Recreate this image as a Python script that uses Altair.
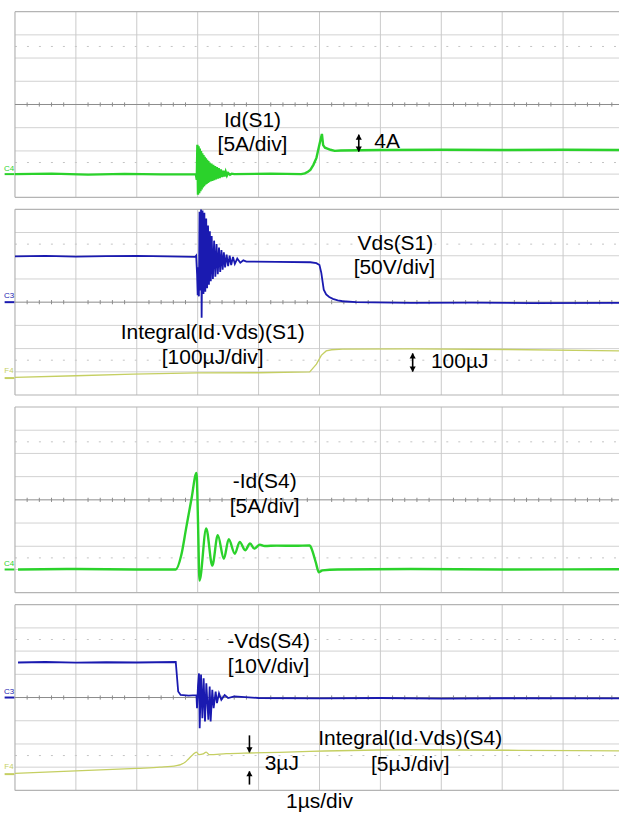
import altair as alt
import pandas as pd

# ---------------- data (time in µs = divisions, value in divisions) ----------------
# Panel 1: Id(S1), green
id1_t = [0.0, 0.6, 1.2, 1.8, 2.4, 2.97, 2.985, 2.995, 3.005, 3.015, 3.025, 3.035, 3.045, 3.055,
         3.065, 3.075, 3.085, 3.095, 3.105, 3.115, 3.125, 3.135, 3.145, 3.155, 3.165, 3.175,
         3.185, 3.195, 3.21, 3.225, 3.24, 3.255, 3.27, 3.285, 3.30, 3.315, 3.33, 3.345, 3.36,
         3.38, 3.40, 3.42, 3.44, 3.46, 3.48, 3.50, 3.53, 3.56, 3.6, 4.2, 4.70, 4.76, 4.81, 4.85,
         4.90, 4.95, 5.00, 5.04, 5.06, 5.09, 5.13, 5.18, 5.25, 5.35, 6.0, 7.0, 8.0, 9.0, 9.93]
id1_v = [-3.0, -2.98, -3.02, -2.99, -3.01, -3.0, -3.25, -1.74, -3.89, -1.80, -3.82, -1.90, -3.74,
         -2.00, -3.66, -2.10, -3.58, -2.18, -3.52, -2.25, -3.46, -2.32, -3.42, -2.38, -3.38,
         -2.44, -3.35, -2.50, -3.32, -2.55, -3.29, -2.60, -3.26, -2.65, -3.23, -2.70, -3.20,
         -2.74, -3.17, -2.80, -3.13, -2.85, -3.10, -2.90, -3.06, -2.95, -3.03, -2.98, -3.0,
         -2.98, -3.0, -2.97, -2.90, -2.82, -2.60, -2.30, -1.71, -1.27, -1.75, -1.86, -1.90,
         -1.95, -2.0, -1.98, -1.96, -1.95, -1.96, -1.95, -1.96]

# Panel 2: Vds(S1), blue
vd1_t = [0.0, 0.5, 1.0, 1.5, 2.0, 2.5, 2.96, 2.975, 2.99, 3.0, 3.01, 3.02, 3.03, 3.045, 3.055,
         3.065, 3.08, 3.095, 3.11, 3.125, 3.14, 3.155, 3.17, 3.185, 3.2, 3.215, 3.23, 3.25, 3.27,
         3.29, 3.31, 3.33, 3.35, 3.37, 3.39, 3.41, 3.43, 3.45, 3.475, 3.5, 3.525, 3.55, 3.58,
         3.61, 3.65, 3.7, 3.75, 3.8, 4.3, 4.85, 4.95, 5.0, 5.03, 5.07, 5.11, 5.16, 5.22, 5.3,
         5.38, 5.6, 6.5, 7.5, 8.5, 9.93]
vd1_v = [1.97, 1.99, 1.96, 1.98, 1.99, 1.97, 1.95, 2.0, 1.2, 0.3, 1.5, 0.25, 3.9, 0.5, 4.0,
         -0.67, 3.95, 0.35, 3.85, 0.45, 3.6, 0.6, 3.3, 0.75, 3.05, 0.9, 2.85, 1.0, 2.65, 1.1,
         2.5, 1.2, 2.35, 1.3, 2.25, 1.4, 2.15, 1.5, 2.05, 1.55, 2.0, 1.6, 1.95, 1.65, 1.88,
         1.7, 1.8, 1.75, 1.74, 1.72, 1.68, 1.6, 1.26, 0.54, 0.33, 0.22, 0.14, 0.08, 0.04, 0.0,
         -0.03, -0.02, -0.04, -0.03]

# Panel 2: Integral(Id·Vds)(S1), yellow
en1_t = [0.0, 1.0, 1.94, 3.0, 4.0, 4.84, 4.95, 5.03, 5.11, 5.2, 5.38, 6.5, 8.1, 9.93]
en1_v = [-3.24, -3.17, -3.1, -3.05, -3.04, -3.0, -2.67, -2.29, -2.1, -2.05, -2.02, -2.01, -2.04, -2.1]

# Panel 3: -Id(S4), green
id4_t = [0.05, 1.0, 2.0, 2.64, 2.73, 2.81, 2.90, 2.98, 2.995, 3.01, 3.03, 3.14,
         3.24, 3.33, 3.43, 3.51, 3.61, 3.69, 3.78, 3.86, 3.93, 4.02, 4.1, 4.3, 4.6, 4.84,
         4.87, 4.89, 4.94, 4.99, 5.05, 5.3, 6.5, 8.0, 9.93]
id4_v = [-3.0, -2.98, -3.0, -3.0, -2.39, -1.23, 0.07, 1.16, 0.22, -1.52, -3.48, -1.23,
         -2.83, -1.52, -2.54, -1.70, -2.32, -1.81, -2.17, -1.88, -2.1, -1.93, -1.99, -1.97,
         -1.98, -1.96, -2.1, -2.25, -2.7, -3.12, -3.04, -3.0, -2.98, -3.0, -2.99]

# Panel 4: -Vds(S4), blue
vd4_t = [0.05, 0.5, 1.0, 1.5, 2.0, 2.64, 2.68, 2.72, 2.85, 2.98, 2.989, 3.005, 3.022, 3.033,
         3.055, 3.077, 3.098, 3.12, 3.142, 3.175, 3.197, 3.213, 3.24, 3.262, 3.295, 3.317,
         3.35, 3.388, 3.443, 3.5, 3.6, 4.0, 5.0, 6.0, 7.0, 8.0, 9.93]
vd4_v = [1.51, 1.53, 1.50, 1.52, 1.51, 1.53, 0.26, 0.11, 0.08, 0.10, -0.46, 0.5, 1.04, -1.32,
         0.99, -0.89, 0.83, -1.03, 0.61, -0.96, 0.47, -1.03, 0.33, -0.46, 0.26, -0.24, 0.18,
         -0.10, 0.11, -0.02, 0.05, -0.02, -0.04, -0.02, -0.05, -0.03, -0.04]

# Panel 4: Integral(Id·Vds)(S4), yellow
en4_t = [0.0, 1.0, 2.0, 2.38, 2.65, 2.72, 2.81, 2.84, 2.92, 2.98, 3.02, 3.09, 3.14, 3.19,
         3.47, 3.85, 4.34, 4.84, 6.48, 9.21, 9.93]
en4_v = [-3.27, -3.16, -3.05, -3.0, -2.93, -2.89, -2.75, -2.67, -2.46, -2.35, -2.46, -2.43,
         -2.35, -2.46, -2.42, -2.39, -2.36, -2.32, -2.25, -2.29, -2.3]

GREEN = "#2bd22b"
BLUE = "#1a1ab0"
YELLOW = "#c5cf62"
FONT = "Liberation Sans"

XMIN, XMAX = -15 / 61, 605 / 61
W = 620


def make_panel(traces, labels, arrows, markers, height=186, ymin=-4.0):
    xs = alt.Scale(domain=[XMIN, XMAX], nice=False, zero=False)
    ys = alt.Scale(domain=[ymin, 4.0], nice=False, zero=False)

    def X(f):
        return alt.X(f, scale=xs, axis=None)

    def Y(f):
        return alt.Y(f, scale=ys, axis=None)

    layers = []
    hg = pd.DataFrame({"y": [-3, -2, -1, 1, 2, 3], "x0": 0.0, "x1": XMAX})
    layers.append(alt.Chart(hg).mark_rule(color="#d2d2d2", strokeWidth=1)
                  .encode(x=X("x0:Q"), x2="x1:Q", y=Y("y:Q")))
    dg = pd.DataFrame({"y": [-2.5, 2.5], "x0": 0.0, "x1": XMAX})
    layers.append(alt.Chart(dg).mark_rule(color="#c4c4c4", strokeWidth=1, strokeDash=[2, 10])
                  .encode(x=X("x0:Q"), x2="x1:Q", y=Y("y:Q")))
    vg = pd.DataFrame({"x": list(range(1, 10)), "y0": -4.0, "y1": 4.0})
    layers.append(alt.Chart(vg).mark_rule(color="#cacaca", strokeWidth=1)
                  .encode(x=X("x:Q"), y=Y("y0:Q"), y2="y1:Q"))
    bd = pd.DataFrame({"y": [-4, 4], "x0": 0.0, "x1": XMAX})
    layers.append(alt.Chart(bd).mark_rule(color="#b4b4b4", strokeWidth=1.2)
                  .encode(x=X("x0:Q"), x2="x1:Q", y=Y("y:Q")))
    lb = pd.DataFrame({"x": [0.0], "y0": -4.0, "y1": 4.0})
    layers.append(alt.Chart(lb).mark_rule(color="#b4b4b4", strokeWidth=1.2)
                  .encode(x=X("x:Q"), y=Y("y0:Q"), y2="y1:Q"))
    cl = pd.DataFrame({"y": [0.0], "x0": 0.0, "x1": XMAX})
    layers.append(alt.Chart(cl).mark_rule(color="#8c8c8c", strokeWidth=1)
                  .encode(x=X("x0:Q"), x2="x1:Q", y=Y("y:Q")))
    tk = pd.DataFrame({"x": [k * 0.2 for k in range(50) if k % 5], "y0": -0.09, "y1": 0.09})
    layers.append(alt.Chart(tk).mark_rule(color="#8c8c8c", strokeWidth=1)
                  .encode(x=X("x:Q"), y=Y("y0:Q"), y2="y1:Q"))

    # left channel markers
    mk_txt = pd.DataFrame([{"x": -0.098, "y": m[1], "text": m[0], "c": m[3]} for m in markers])
    layers.append(alt.Chart(mk_txt).mark_text(fontSize=8, font=FONT, align="center",
                                              baseline="alphabetic")
                  .encode(x=X("x:Q"), y=Y("y:Q"), text="text:N", color=alt.Color("c:N", scale=None)))
    mk_dash = pd.DataFrame([{"x0": -0.17, "x1": -0.01, "y": m[2], "c": m[3]} for m in markers])
    layers.append(alt.Chart(mk_dash).mark_rule(strokeWidth=2)
                  .encode(x=X("x0:Q"), x2="x1:Q", y=Y("y:Q"), color=alt.Color("c:N", scale=None)))

    for t, v, c, w, interp in traces:
        d = pd.DataFrame({"t": t, "v": v, "i": list(range(len(t)))})
        layers.append(alt.Chart(d).mark_line(color=c, strokeWidth=w, clip=True, interpolate=interp)
                      .encode(x=X("t:Q"), y=Y("v:Q"), order="i:Q"))

    if arrows:
        sh = pd.DataFrame([{"x": a[0], "y0": a[1], "y1": a[2]} for a in arrows])
        layers.append(alt.Chart(sh).mark_rule(color="black", strokeWidth=1.6)
                      .encode(x=X("x:Q"), y=Y("y0:Q"), y2="y1:Q"))
        heads = []
        for a in arrows:
            for hy, shp in a[3]:
                heads.append({"x": a[0], "y": hy, "s": shp})
        hd = pd.DataFrame(heads)
        layers.append(alt.Chart(hd).mark_point(filled=True, size=38, color="black", opacity=1)
                      .encode(x=X("x:Q"), y=Y("y:Q"), shape=alt.Shape("s:N", scale=None)))

    for al in ["center", "left"]:
        sub = [l for l in labels if l[3] == al]
        if sub:
            d = pd.DataFrame([{"x": l[1], "y": l[2], "text": l[0]} for l in sub])
            layers.append(alt.Chart(d).mark_text(fontSize=21, font=FONT, align=al,
                                                 baseline="alphabetic", color="black")
                          .encode(x=X("x:Q"), y=Y("y:Q"), text="text:N"))

    return alt.layer(*layers).properties(width=W, height=height)


p1 = make_panel(
    traces=[(id1_t, id1_v, GREEN, 2.4, "linear")],
    labels=[("Id(S1)", 3.90, -0.99, "center"), ("[5A/div]", 3.90, -2.02, "center"),
            ("4A", 5.90, -1.88, "left")],
    arrows=[(5.645, -1.30, -2.03, [(-1.40, "triangle-up"), (-1.93, "triangle-down")])],
    markers=[("C4", -2.86, -3.0, GREEN)],
)
p2 = make_panel(
    traces=[(en1_t, en1_v, YELLOW, 1.3, "linear"), (vd1_t, vd1_v, BLUE, 1.8, "linear")],
    labels=[("Vds(S1)", 6.246, 2.24, "center"), ("[50V/div]", 6.23, 1.22, "center"),
            ("Integral(Id·Vds)(S1)", 3.246, -1.58, "center"),
            ("[100µJ/div]", 3.246, -2.67, "center"), ("100µJ", 6.83, -2.83, "left")],
    arrows=[(6.53, -2.21, -2.99, [(-2.31, "triangle-up"), (-2.89, "triangle-down")])],
    markers=[("C3", 0.17, 0.0, BLUE), ("F4", -3.05, -3.27, YELLOW)],
)
p3 = make_panel(
    traces=[(id4_t, id4_v, GREEN, 2.4, "monotone")],
    labels=[("-Id(S4)", 4.10, 0.50, "center"), ("[5A/div]", 4.10, -0.55, "center")],
    arrows=[],
    markers=[("C4", -2.87, -3.0, GREEN)],
)
p4 = make_panel(
    traces=[(en4_t, en4_v, YELLOW, 1.3, "monotone"), (vd4_t, vd4_v, BLUE, 1.8, "linear")],
    labels=[("-Vds(S4)", 4.164, 2.12, "center"), ("[10V/div]", 4.164, 1.05, "center"),
            ("Integral(Id·Vds)(S4)", 6.49, -2.06, "center"),
            ("[5µJ/div]", 6.49, -3.18, "center"), ("3µJ", 4.10, -3.12, "left"),
            ("1µs/div", 5.0, -4.77, "center")],
    arrows=[(3.85, -1.63, -2.36, [(-2.26, "triangle-down")]),
            (3.85, -3.18, -3.75, [(-3.28, "triangle-up")])],
    markers=[("C3", 0.17, 0.0, BLUE), ("F4", -3.09, -3.3, YELLOW)],
    height=207, ymin=-4.0 - 21 / 23.25,
)

chart = alt.vconcat(p1, p2, p3, p4, spacing=12, bounds="flush").properties(
    padding={"left": 0, "top": 10, "right": 0, "bottom": 0},
    background="white",
).configure_view(stroke=None)

chart.save("out.html", embed_options={"renderer": "svg", "actions": False})
